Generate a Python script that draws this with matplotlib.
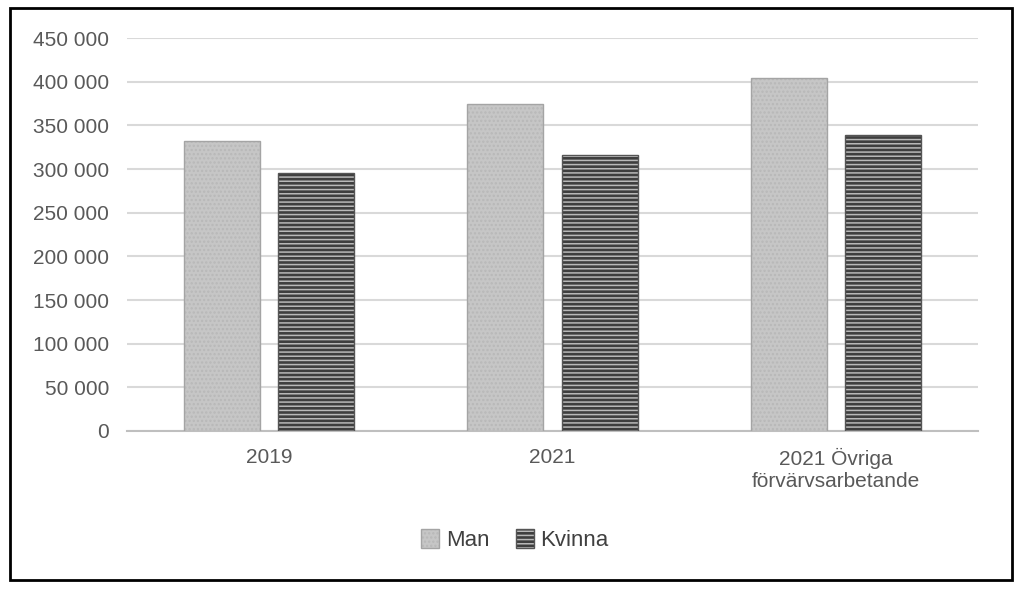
from matplotlib import pyplot as plt
from matplotlib.patches import Rectangle, Patch
import numpy as np

# data
categories = ['2019', '2021', '2021 Övriga\nförvärvsarbetande']
man = [332000, 374000, 404000]
kvinna = [296000, 316000, 339000]
y_ticks = [0, 50000, 100000, 150000, 200000, 250000, 300000, 350000, 400000, 450000]
y_labels = ['0', '50 000', '100 000', '150 000', '200 000', '250 000',
            '300 000', '350 000', '400 000', '450 000']

plt.rcParams['font.family'] = ['Liberation Sans', 'DejaVu Sans']
plt.rcParams['hatch.linewidth'] = 1.1

fig = plt.figure(figsize=(10.24, 5.9), dpi=100)
ax = fig.add_axes([0.124, 0.2695, 0.831, 0.666])

# outer frame
fig.patches.append(Rectangle((0.0098, 0.017), 0.9785, 0.9695, transform=fig.transFigure,
                             fill=False, edgecolor='black', linewidth=2))

x = np.arange(len(categories))
w = 0.268
off = 0.166

MAN_HATCH = (0.72, 0.72, 0.72, 1)
KV_HATCH = (0.72, 0.72, 0.72, 1)

b1 = ax.bar(x - off, man, w, color='#c6c6c6', edgecolor='#a4a4a4', hatch='....',
            linewidth=1, zorder=3)
b2 = ax.bar(x + off, kvinna, w, color='#3e3e3e', edgecolor='#555555', hatch='----',
            linewidth=1, zorder=3)
for b in b1:
    b._hatch_color = MAN_HATCH
for b in b2:
    b._hatch_color = KV_HATCH

ax.set_xlim(-0.5, len(categories) - 0.5)
ax.set_ylim(0, 450000)
ax.set_yticks(y_ticks)
ax.set_yticklabels(y_labels)
ax.set_xticks(x)
ax.set_xticklabels(categories, linespacing=1.25)
ax.tick_params(axis='both', length=0, labelsize=15, labelcolor='#595959')
ax.tick_params(axis='y', pad=13)
ax.tick_params(axis='x', pad=12)
ax.grid(axis='y', color='#d9d9d9', linewidth=1.5, zorder=0)
ax.set_axisbelow(True)
for s in ['top', 'right', 'left']:
    ax.spines[s].set_visible(False)
ax.spines['bottom'].set_color('#bfbfbf')
ax.spines['bottom'].set_linewidth(1.5)

h1 = Patch(facecolor='#c6c6c6', edgecolor='#a4a4a4', hatch='....')
h2 = Patch(facecolor='#3e3e3e', edgecolor='#555555', hatch='----')
h1._hatch_color = MAN_HATCH
h2._hatch_color = KV_HATCH
fig.legend([h1, h2], ['Man', 'Kvinna'], loc='center', bbox_to_anchor=(0.503, 0.085),
           ncol=2, frameon=False, fontsize=16, handlelength=0.8, handleheight=1.0,
           handletextpad=0.3, columnspacing=1.2, labelcolor='#404040')

fig.savefig('out.png', dpi=100)
